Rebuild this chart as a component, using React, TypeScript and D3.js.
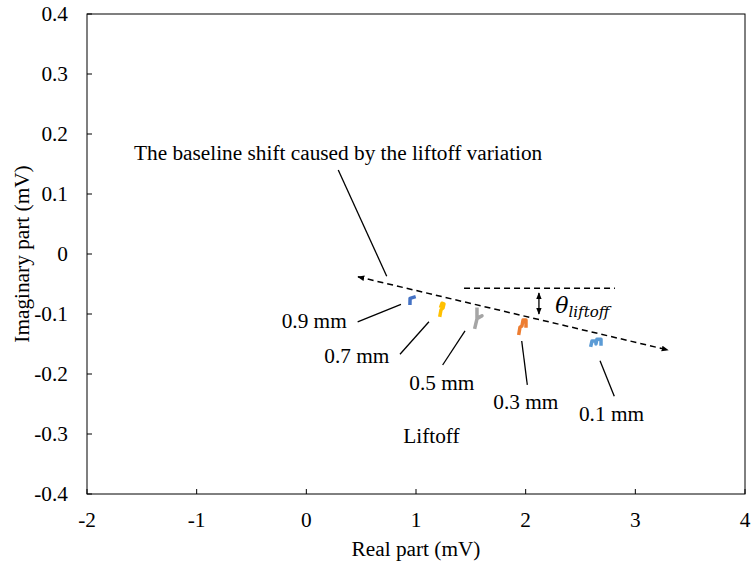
import React from "react";
import * as d3 from "d3";

// liftoff clusters: [real, imaginary] in mV
const lift09 = [[0.945, -0.082], [0.946, -0.074], [0.982, -0.072]];
const lift07 = [[1.219, -0.102], [1.228, -0.093], [1.246, -0.09], [1.255, -0.083], [1.237, -0.082], [1.228, -0.087]];
const lift05 = [[1.556, -0.092], [1.556, -0.107], [1.602, -0.103], [1.556, -0.108], [1.538, -0.122]];
const lift03 = [[1.939, -0.132], [1.948, -0.122], [1.966, -0.12], [1.976, -0.11], [2.003, -0.11], [2.003, -0.12]];
const lift01 = [[2.596, -0.152], [2.605, -0.145], [2.641, -0.145], [2.641, -0.15], [2.65, -0.142], [2.687, -0.142], [2.687, -0.15]];

const seriesData = [lift09, lift07, lift05, lift03, lift01];
const seriesLabels = ["0.9 mm", "0.7 mm", "0.5 mm", "0.3 mm", "0.1 mm"];
const seriesColors = ["#4472C4", "#FFC000", "#A5A5A5", "#ED7D31", "#5B9BD5"];

const xTicks = [-2, -1, 0, 1, 2, 3, 4];
const yTicks = [0.4, 0.3, 0.2, 0.1, 0, -0.1, -0.2, -0.3, -0.4];

// annotation anchors, data units
const labelAt = [[-0.225, -0.123], [0.164, -0.181], [0.939, -0.227], [1.705, -0.259], [2.486, -0.278]];
const leaderFrom = [[0.468, -0.113], [0.854, -0.167], [1.243, -0.185], [2.015, -0.218], [2.808, -0.237]];
const leaderTo = [[0.863, -0.084], [1.118, -0.113], [1.447, -0.128], [1.964, -0.145], [2.678, -0.178]];

const W = 753;
const H = 564;
const SERIF = { fontFamily: '"Liberation Serif", "DejaVu Serif", serif' };
const FS = 21.3;

export default function App() {
  const x = d3.scaleLinear().domain([-2, 4]).range([87, 745]);
  const y = d3.scaleLinear().domain([-0.4, 0.4]).range([494, 14]);
  const line = d3.line<number[]>().x(d => x(d[0])).y(d => y(d[1]));
  const fmtY = (v: number) => (Math.abs(v) < 1e-9 ? "0" : v.toFixed(1));

  return (
    <svg width={W} height={H} style={{ position: "absolute", left: 0, top: 0 }}>
      <defs>
        <marker id="ah" viewBox="0 0 10 10" refX="9" refY="5" markerWidth="7" markerHeight="7" orient="auto-start-reverse" markerUnits="userSpaceOnUse">
          <path d="M0,1 L10,5 L0,9 Z" fill="#000" />
        </marker>
      </defs>
      <rect x={0} y={0} width={W} height={H} fill="#fff" />

      {/* frame */}
      <rect x={x(-2)} y={y(0.4)} width={x(4) - x(-2)} height={y(-0.4) - y(0.4)} fill="none" stroke="#000" strokeWidth={1} />

      {/* ticks, pointing inward */}
      {yTicks.map(t => (
        <g key={"y" + t}>
          <line x1={x(-2)} x2={x(-2) + 5} y1={y(t)} y2={y(t)} stroke="#000" />
          <text x={68} y={y(t)} dy="0.35em" textAnchor="end" fontSize={FS} style={SERIF}>{fmtY(t)}</text>
        </g>
      ))}
      {xTicks.map(t => (
        <g key={"x" + t}>
          <line x1={x(t)} x2={x(t)} y1={y(-0.4)} y2={y(-0.4) - 5} stroke="#000" />
          <text x={x(t)} y={527} textAnchor="middle" fontSize={FS} style={SERIF}>{String(t)}</text>
        </g>
      ))}

      <text x={(x(-2) + x(4)) / 2} y={556} textAnchor="middle" fontSize={FS} style={SERIF}>Real part (mV)</text>
      <text transform={`translate(29, ${y(0)}) rotate(-90)`} textAnchor="middle" fontSize={FS} style={SERIF}>Imaginary part (mV)</text>

      {/* series */}
      {seriesData.map((s, i) => (
        <path key={seriesLabels[i]} d={line(s) || ""} fill="none" stroke={seriesColors[i]} strokeWidth={3.5} strokeLinejoin="round" strokeLinecap="square" />
      ))}

      {/* baseline shift arrow and reference line */}
      <line x1={x(0.471)} y1={y(-0.038)} x2={x(3.298)} y2={y(-0.16)} stroke="#000" strokeWidth={1.5} strokeDasharray="6 4" markerStart="url(#ah)" markerEnd="url(#ah)" />
      <line x1={x(1.438)} y1={y(-0.057)} x2={x(2.814)} y2={y(-0.057)} stroke="#000" strokeWidth={1.5} strokeDasharray="6 4" />
      <line x1={x(2.121)} y1={y(-0.065)} x2={x(2.121)} y2={y(-0.1)} stroke="#000" strokeWidth={1.3} markerStart="url(#ah)" markerEnd="url(#ah)" />
      <text x={x(2.27)} y={y(-0.098)} fontStyle="italic" fontSize={22} style={{ fontFamily: '"DejaVu Serif", serif' }}>
        θ<tspan fontSize={15} dy={4}>liftoff</tspan>
      </text>

      <line x1={x(0.291)} y1={y(0.14)} x2={x(0.733)} y2={y(-0.037)} stroke="#000" strokeWidth={1.3} />
      <text x={134} y={160} fontSize={FS} style={SERIF}>The baseline shift caused by the liftoff variation</text>

      {/* liftoff labels */}
      {seriesLabels.map((lab, i) => (
        <g key={"l" + lab}>
          <line x1={x(leaderFrom[i][0])} y1={y(leaderFrom[i][1])} x2={x(leaderTo[i][0])} y2={y(leaderTo[i][1])} stroke="#000" strokeWidth={1.3} />
          <text x={x(labelAt[i][0])} y={y(labelAt[i][1])} fontSize={FS} style={SERIF}>{lab}</text>
        </g>
      ))}
      <text x={x(0.884)} y={y(-0.3145)} fontSize={FS} style={SERIF}>Liftoff</text>
    </svg>
  );
}
